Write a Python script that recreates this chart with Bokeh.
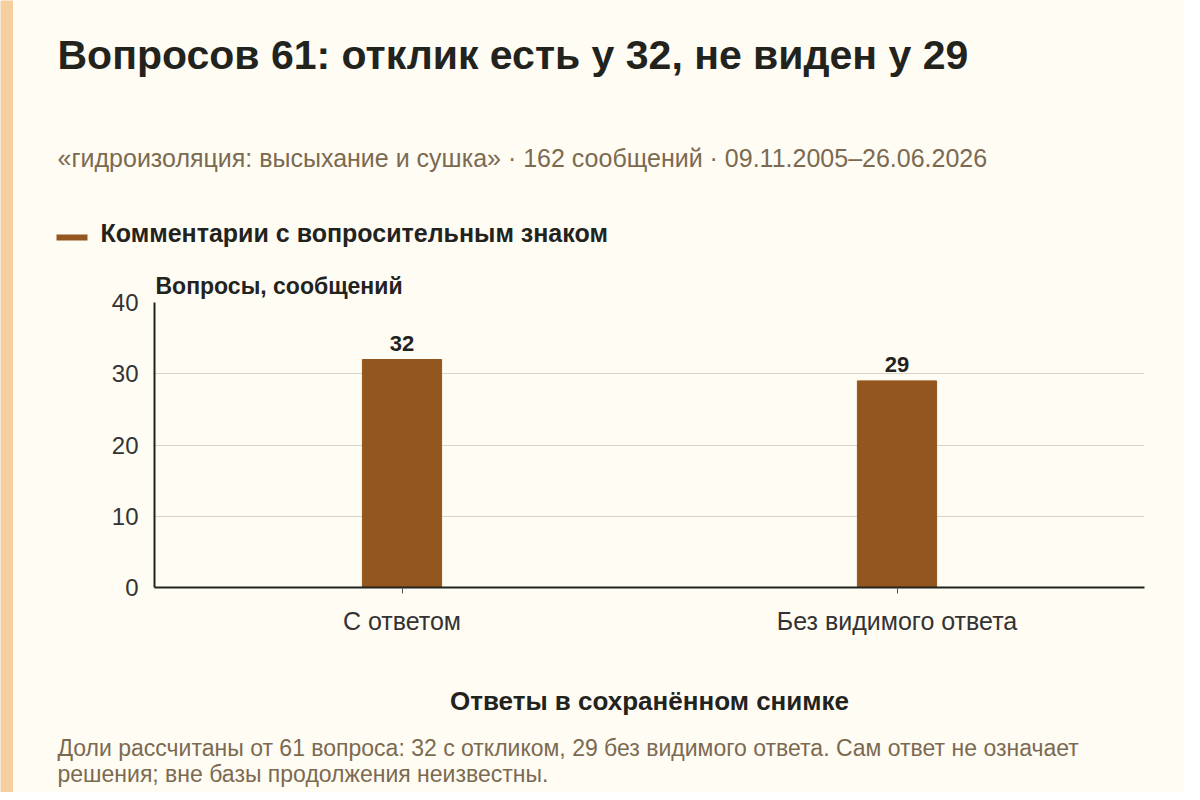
from bokeh.plotting import figure
from bokeh.layouts import row, column
from bokeh.models import ColumnDataSource, Title, Label, BoxAnnotation, FixedTicker
from bokeh.core.properties import value
from bokeh.embed import file_html
from bokeh.resources import INLINE

#Data
categories = ['С ответом', 'Без видимого ответа']
questions = [32, 29]
value_labels = ['32', '29']
y_ticks = [0, 10, 20, 30, 40]

#Texts
title_text = 'Вопросов 61: отклик есть у 32, не виден у 29'
subtitle_text = '«гидроизоляция: высыхание и сушка» · 162 сообщений · 09.11.2005–26.06.2026'
legend_text = 'Комментарии с вопросительным знаком'
y_title = 'Вопросы, сообщений'
x_title = 'Ответы в сохранённом снимке'
note_lines = ['Доли рассчитаны от 61 вопроса: 32 с откликом, 29 без видимого ответа. Сам ответ не означает',
              'решения; вне базы продолжения неизвестны.']

#Colors
bg = '#fffcf4'
strip_color = '#f5cfa0'
bar_color = '#94561f'
dark = '#23231e'
muted = '#7b6a50'
font = 'Liberation Sans'

W = 1171

#Plain panel (no axes) used for the strip, the header and the footnote
def blank(width, height, color):
    f = figure(width=width, height=height, output_backend='svg', toolbar_location=None,
               min_border=0, x_axis_location=None, y_axis_location=None,
               frame_align=False)
    f.background_fill_color = color
    f.border_fill_color = color
    f.outline_line_color = None
    f.grid.grid_line_color = None
    return f

def add_text(f, text, x, y, size, color, bold=False):
    f.add_layout(Label(x=x, y=y, x_units='screen', y_units='screen', text=text,
                       text_font=font, text_font_size=size, text_color=color,
                       text_font_style='bold' if bold else 'normal',
                       text_align='left', text_baseline='alphabetic'))

#Thin strip on the left side
strip = blank(13, 792, strip_color)

#Header: title, subtitle, legend
header = blank(W, 262, bg)
add_text(header, title_text, 44, 208, '41px', dark, bold=True)
add_text(header, subtitle_text, 44, 105, '25px', muted)
header.add_layout(BoxAnnotation(left=43, right=74, bottom=22, top=28,
                                left_units='screen', right_units='screen',
                                bottom_units='screen', top_units='screen',
                                fill_color=bar_color, fill_alpha=1, line_color=None))
add_text(header, legend_text, 87, 30, '25px', dark, bold=True)

#Main chart
source = ColumnDataSource(data=dict(cat=categories, val=questions, lab=value_labels))

p = figure(x_range=categories, y_range=(0, 40),
           width=W, height=463,
           output_backend='svg', toolbar_location=None,
           min_border_left=141, min_border_right=40,
           min_border_top=40, min_border_bottom=138,
           frame_align=False)
p.x_range.range_padding = 0
p.background_fill_color = bg
p.border_fill_color = bg
p.outline_line_color = None

#Bars and value labels
bars = p.vbar(x='cat', top='val', width=0.16, source=source, color=bar_color)
p.text(x='cat', y='val', text='lab', source=source, y_offset=-16,
       text_align='center', text_baseline='alphabetic',
       text_font=value(font), text_font_size='22px', text_font_style='bold', text_color=dark)

#Grid
p.xgrid.grid_line_color = None
p.ygrid.grid_line_color = '#d9d4cb'
p.ygrid.grid_line_width = 1
p.yaxis.ticker = FixedTicker(ticks=y_ticks)

#Y axis
p.yaxis.axis_line_color = dark
p.yaxis.axis_line_width = 2
p.yaxis.major_tick_out = 0
p.yaxis.major_tick_in = 0
p.yaxis.minor_tick_line_color = None
p.yaxis.major_label_standoff = 16
p.yaxis.major_label_text_font = font
p.yaxis.major_label_text_font_size = '24px'
p.yaxis.major_label_text_color = '#333333'

#X axis
p.xaxis.axis_line_color = dark
p.xaxis.axis_line_width = 2
p.xaxis.major_tick_out = 6
p.xaxis.major_tick_in = 0
p.xaxis.major_tick_line_color = '#555555'
p.xaxis.major_label_standoff = 13
p.xaxis.major_label_text_font = font
p.xaxis.major_label_text_font_size = '25px'
p.xaxis.major_label_text_color = '#333333'
p.xaxis.axis_label = x_title
p.xaxis.axis_label_standoff = 48
p.xaxis.axis_label_text_font = font
p.xaxis.axis_label_text_font_size = '26px'
p.xaxis.axis_label_text_font_style = 'bold'
p.xaxis.axis_label_text_color = dark

#Axis title above the y axis
p.add_layout(Title(text=y_title, align='left', offset=1, standoff=7,
                   text_font=font, text_font_size='23px', text_font_style='bold',
                   text_color=dark), 'above')

#Footnote
footer = blank(W, 67, bg)
add_text(footer, note_lines[0], 44, 45, '23px', muted)
add_text(footer, note_lines[1], 44, 19, '23px', muted)

layout = row(strip, column(header, p, footer))
open("out.html", "w").write(file_html(layout, INLINE))
